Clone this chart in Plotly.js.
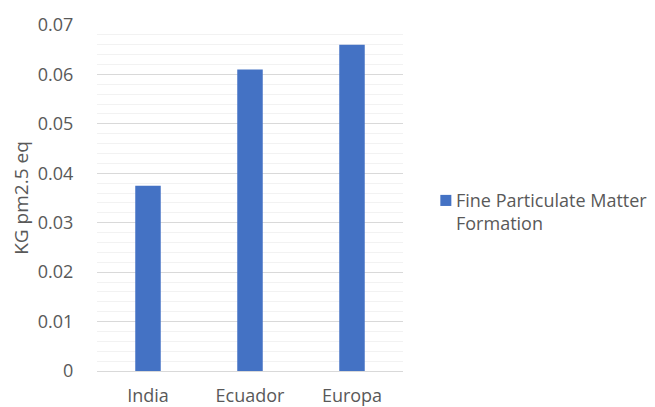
<!DOCTYPE html>
<html>
<head>
<meta charset="utf-8">
<script src="https://cdn.plot.ly/plotly-3.0.1.min.js"></script>
<style>
  html, body { margin: 0; padding: 0; background: #ffffff; }
  #chart { width: 655px; height: 407px; }
</style>
</head>
<body>
<div id="chart"></div>
<script>
// Fine particulate matter formation per region (kg PM2.5 eq)
const regions = ['India', 'Ecuador', 'Europa'];
const pm25Values = [0.0375, 0.061, 0.066];
const seriesName = 'Fine Particulate Matter<br>Formation';
const yTickValues = [0, 0.01, 0.02, 0.03, 0.04, 0.05, 0.06, 0.07];
const yTickLabels = ['0', '0.01', '0.02', '0.03', '0.04', '0.05', '0.06', '0.07'];

const barColor = '#4472C4';
const fontFamily = 'Open Sans, Noto Sans, Liberation Sans, sans-serif';
const tickFont = { family: fontFamily, size: 18, color: '#595959' };
const titleFont = { family: fontFamily, size: 19, color: '#595959' };
const legendFont = { family: fontFamily, size: 18, color: '#595959' };

const trace = {
  type: 'bar',
  x: regions,
  y: pm25Values,
  name: seriesName,
  marker: { color: barColor },
  showlegend: false,
  hoverinfo: 'x+y'
};

const layout = {
  width: 655,
  height: 407,
  margin: { l: 97, r: 252, t: 25, b: 36 },
  paper_bgcolor: '#ffffff',
  plot_bgcolor: '#ffffff',
  font: tickFont,
  bargap: 0.75,
  showlegend: false,
  xaxis: {
    type: 'category',
    showgrid: false,
    showline: true,
    linecolor: '#d9d9d9',
    linewidth: 1,
    ticks: 'outside',
    ticklen: 8,
    tickcolor: 'rgba(0,0,0,0)',
    tickfont: tickFont,
    zeroline: false
  },
  yaxis: {
    range: [0, 0.07],
    tickvals: yTickValues,
    ticktext: yTickLabels,
    showgrid: true,
    gridcolor: '#d9d9d9',
    gridwidth: 1,
    minor: { dtick: 0.002, showgrid: true, gridcolor: '#f2f2f2', gridwidth: 1 },
    zeroline: false,
    showline: false,
    ticks: 'outside',
    ticklen: 19,
    tickcolor: 'rgba(0,0,0,0)',
    tickfont: tickFont,
    title: { text: 'KG pm2.5 eq', font: titleFont, standoff: 4 }
  },
  // series key: swatch plus wrapped series name to the right of the plot
  shapes: [{
    type: 'rect', xref: 'paper', yref: 'paper',
    x0: 1.122, x1: 1.158, y0: 0.477, y1: 0.509,
    fillcolor: barColor, line: { width: 0 }
  }],
  annotations: [{
    xref: 'paper', yref: 'paper',
    x: 1.168, y: 0.535, xanchor: 'left', yanchor: 'top',
    align: 'left', showarrow: false,
    text: seriesName,
    font: legendFont
  }]
};

Plotly.newPlot('chart', [trace], layout, { displayModeBar: false, staticPlot: true });
</script>
</body>
</html>
